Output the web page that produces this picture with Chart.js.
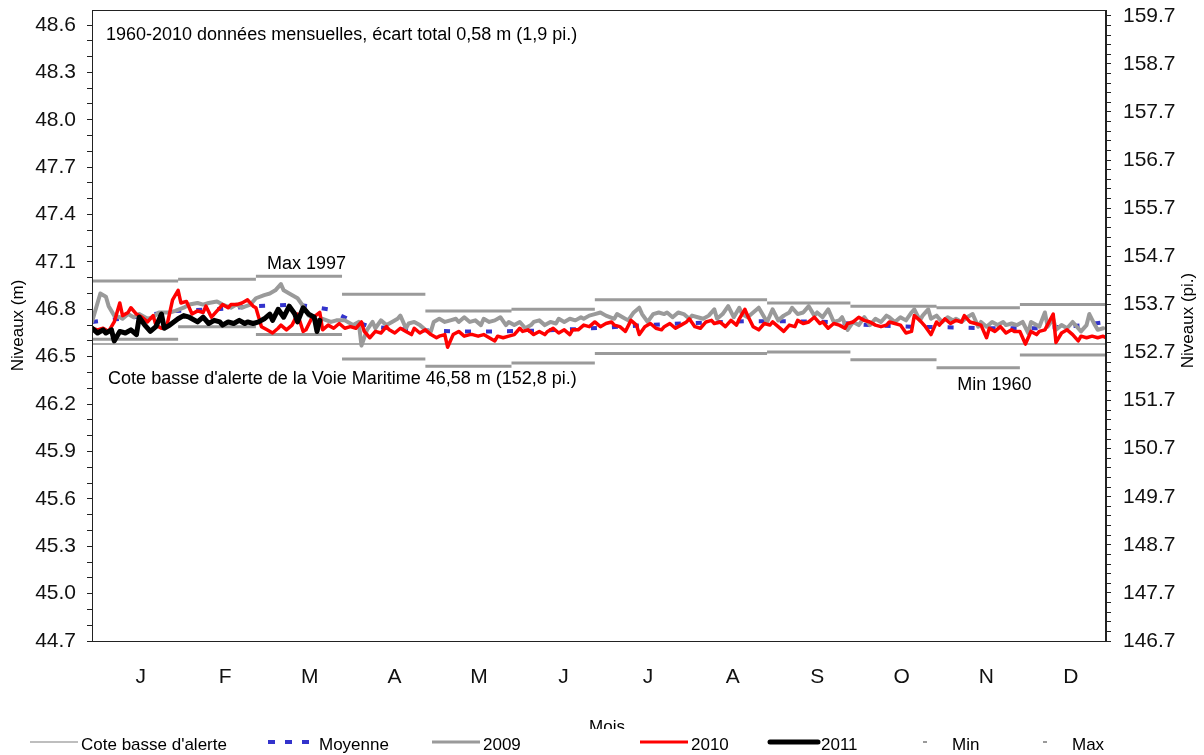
<!DOCTYPE html>
<html>
<head>
<meta charset="utf-8">
<title>Niveaux</title>
<script src="https://cdn.jsdelivr.net/npm/chart.js@4.4.1/dist/chart.umd.min.js"></script>
<style>
  html, body { margin: 0; padding: 0; background: #fff; }
  canvas { display: block; }
</style>
</head>
<body>
<canvas id="myLevels" width="1204" height="755"></canvas>
<script>
const months = ["J", "F", "M", "A", "M", "J", "J", "A", "S", "O", "N", "D"];
const monthDays = [31, 28, 31, 30, 31, 30, 31, 31, 30, 31, 30, 31];

// monthly extremes 1960-2010 (m)
const maxLevels = [46.98, 46.99, 47.01, 46.895, 46.79, 46.8, 46.86, 46.86, 46.84, 46.82, 46.81, 46.83];
const minLevels = [46.61, 46.69, 46.64, 46.485, 46.44, 46.46, 46.52, 46.52, 46.53, 46.48, 46.43, 46.51];
const alertLevel = 46.58;

// tick labels
const ticksM = [44.7, 45.0, 45.3, 45.6, 45.9, 46.2, 46.5, 46.8, 47.1, 47.4, 47.7, 48.0, 48.3, 48.6];
const ticksFt = [146.7, 147.7, 148.7, 149.7, 150.7, 151.7, 152.7, 153.7, 154.7, 155.7, 156.7, 157.7, 158.7, 159.7];

// [day of year, level m]
const moyenne = [[0,46.72],[15,46.75],[30,46.79],[45,46.80],[59,46.82],[74,46.83],[85,46.80],[92,46.74],[100,46.69],
  [115,46.67],[130,46.66],[145,46.66],[160,46.665],[175,46.675],[190,46.69],[205,46.705],[220,46.715],[235,46.725],
  [250,46.725],[265,46.72],[280,46.70],[295,46.69],[310,46.685],[325,46.68],[340,46.68],[350,46.69],[357,46.70],[365,46.72]];

const levels2009 = [[0,46.72],[3,46.90],[5,46.88],[6,46.82],[8,46.76],[10,46.75],[11,46.74],[13,46.77],[15,46.75],[17,46.77],
  [20,46.74],[22,46.75],[24,46.78],[26,46.78],[28,46.78],[30,46.79],[33,46.81],[35,46.83],[38,46.84],[40,46.83],[42,46.84],
  [45,46.85],[47,46.83],[50,46.81],[52,46.83],[54,46.81],[57,46.83],[59,46.87],[62,46.89],[64,46.90],[66,46.92],[68,46.96],
  [69,46.92],[71,46.90],[74,46.87],[76,46.82],[78,46.76],[81,46.73],[83,46.74],[86,46.72],[88,46.73],[91,46.73],[94,46.70],
  [96,46.72],[97,46.57],[99,46.67],[101,46.72],[102,46.68],[104,46.73],[106,46.70],[108,46.72],[110,46.74],[111,46.76],
  [113,46.68],[114,46.71],[116,46.72],[118,46.70],[120,46.67],[122,46.66],[123,46.72],[125,46.74],[127,46.72],[129,46.73],
  [131,46.74],[132,46.72],[134,46.75],[136,46.72],[138,46.73],[140,46.70],[141,46.74],[143,46.72],[145,46.73],[147,46.75],
  [149,46.70],[150,46.72],[152,46.70],[154,46.72],[156,46.68],[158,46.70],[159,46.72],[161,46.73],[163,46.70],[165,46.72],
  [167,46.71],[168,46.74],[170,46.72],[172,46.74],[174,46.73],[176,46.75],[177,46.74],[179,46.76],[181,46.77],[183,46.78],
  [185,46.76],[188,46.74],[189,46.77],[191,46.75],[193,46.73],[195,46.78],[197,46.81],[198,46.77],[200,46.72],[202,46.77],
  [204,46.78],[206,46.77],[207,46.78],[209,46.75],[211,46.78],[213,46.77],[215,46.74],[216,46.76],[218,46.75],[220,46.74],
  [222,46.76],[224,46.80],[225,46.74],[227,46.77],[229,46.82],[231,46.75],[233,46.81],[234,46.77],[236,46.75],[238,46.78],
  [240,46.81],[242,46.75],[243,46.72],[245,46.80],[247,46.73],[249,46.76],[251,46.78],[252,46.81],[254,46.77],[256,46.78],
  [258,46.82],[260,46.76],[261,46.78],[263,46.75],[265,46.80],[267,46.72],[269,46.73],[270,46.75],[272,46.67],[274,46.72],
  [276,46.70],[278,46.75],[280,46.70],[282,46.74],[284,46.72],[286,46.76],[287,46.75],[289,46.72],[291,46.75],[293,46.73],
  [295,46.78],[296,46.80],[298,46.73],[299,46.76],[301,46.80],[302,46.74],[304,46.76],[306,46.72],[308,46.75],[310,46.73],
  [311,46.74],[313,46.72],[315,46.75],[317,46.77],[319,46.69],[320,46.72],[322,46.69],[324,46.72],[326,46.70],[328,46.72],
  [329,46.70],[331,46.71],[333,46.70],[335,46.72],[337,46.65],[338,46.72],[340,46.70],[341,46.69],[343,46.78],[344,46.69],
  [346,46.74],[347,46.67],[349,46.70],[351,46.68],[353,46.72],[355,46.68],[356,46.66],[358,46.70],[359,46.77],[361,46.70],
  [362,46.67],[364,46.68]];

const levels2010 = [[0,46.68],[2,46.67],[4,46.68],[6,46.66],[8,46.72],[10,46.84],[11,46.76],[13,46.78],[14,46.81],[16,46.77],
  [18,46.75],[20,46.72],[22,46.76],[23,46.70],[25,46.68],[27,46.70],[29,46.86],[31,46.92],[32,46.84],[34,46.85],[36,46.77],
  [38,46.79],[40,46.78],[41,46.82],[43,46.75],[45,46.79],[47,46.83],[49,46.81],[50,46.83],[52,46.83],[54,46.84],[56,46.86],
  [58,46.82],[59,46.81],[61,46.69],[63,46.67],[65,46.65],[67,46.68],[68,46.70],[70,46.67],[72,46.70],[74,46.77],[76,46.66],
  [77,46.67],[79,46.74],[82,46.78],[83,46.67],[85,46.70],[87,46.68],[89,46.71],[91,46.68],[93,46.69],[95,46.68],[97,46.72],
  [98,46.66],[100,46.62],[102,46.66],[104,46.65],[106,46.69],[107,46.67],[109,46.65],[111,46.68],[113,46.66],[115,46.64],
  [116,46.68],[118,46.65],[120,46.67],[122,46.64],[124,46.62],[125,46.63],[127,46.64],[128,46.56],[130,46.64],[132,46.66],
  [134,46.63],[136,46.64],[137,46.64],[139,46.63],[141,46.64],[143,46.62],[145,46.60],[146,46.63],[148,46.62],[150,46.63],
  [152,46.64],[154,46.68],[155,46.66],[157,46.67],[159,46.64],[161,46.66],[163,46.64],[164,46.66],[166,46.68],[168,46.65],
  [170,46.67],[172,46.64],[173,46.67],[175,46.67],[177,46.70],[179,46.69],[181,46.72],[183,46.69],[185,46.71],[187,46.72],
  [188,46.70],[190,46.69],[192,46.66],[194,46.73],[196,46.70],[197,46.64],[199,46.69],[201,46.71],[203,46.68],[205,46.67],
  [206,46.69],[208,46.71],[210,46.68],[212,46.70],[214,46.72],[215,46.74],[217,46.69],[219,46.68],[221,46.72],[223,46.73],
  [224,46.71],[226,46.72],[228,46.69],[230,46.73],[232,46.70],[233,46.74],[235,46.80],[236,46.76],[238,46.69],[240,46.67],
  [242,46.71],[244,46.70],[245,46.72],[247,46.69],[249,46.66],[251,46.70],[253,46.69],[254,46.73],[256,46.71],[258,46.72],
  [260,46.75],[262,46.71],[263,46.72],[265,46.68],[267,46.71],[269,46.70],[271,46.68],[272,46.71],[274,46.72],[276,46.75],
  [278,46.73],[280,46.72],[282,46.70],[284,46.69],[286,46.70],[287,46.72],[289,46.71],[291,46.70],[293,46.65],[295,46.66],
  [296,46.76],[298,46.73],[300,46.69],[302,46.64],[304,46.72],[305,46.70],[307,46.74],[309,46.71],[311,46.73],[313,46.72],
  [314,46.76],[316,46.72],[318,46.71],[320,46.70],[322,46.62],[323,46.68],[325,46.66],[327,46.69],[329,46.65],[331,46.67],
  [332,46.66],[334,46.66],[336,46.58],[338,46.66],[340,46.64],[341,46.66],[343,46.67],[346,46.77],[347,46.59],[349,46.65],
  [351,46.67],[353,46.64],[355,46.60],[356,46.63],[358,46.62],[360,46.63],[362,46.62],[364,46.63],[365,46.62]];

const levels2011 = [[0,46.68],[2,46.65],[4,46.67],[5,46.65],[7,46.67],[8,46.60],[10,46.66],[12,46.65],[14,46.67],[16,46.64],
  [17,46.75],[19,46.70],[21,46.66],[23,46.69],[25,46.77],[26,46.68],[28,46.70],[31,46.74],[33,46.76],[35,46.75],[38,46.72],
  [40,46.75],[42,46.71],[44,46.73],[46,46.72],[47,46.70],[49,46.72],[51,46.71],[53,46.73],[55,46.71],[56,46.72],[58,46.71],
  [60,46.72],[62,46.74],[64,46.77],[65,46.73],[67,46.80],[69,46.75],[71,46.82],[73,46.77],[74,46.72],[76,46.81],[78,46.77],
  [80,46.75],[81,46.66],[82,46.73]];

const FONT = '"Liberation Sans", Arial, sans-serif';

function toPoints(pairs) {
  return pairs.map(([d, v]) => ({ x: d, y: v }));
}

// one flat segment per month, broken between months
function monthSegments(vals) {
  const pts = [];
  let start = 0;
  vals.forEach((v, i) => {
    const end = start + monthDays[i];
    pts.push({ x: start, y: v }, { x: end, y: v }, { x: end, y: null });
    start = end;
  });
  return pts;
}

const GRAY = "#9a9a9a";

const extras = {
  id: "extras",
  afterDatasetsDraw(chart) {
    const { ctx, chartArea: a, scales } = chart;
    const xs = scales.x, ys = scales.y;
    ctx.save();
    ctx.strokeStyle = "#222";
    ctx.lineWidth = 1;
    ctx.strokeRect(a.left + 0.5, a.top + 0.5, a.right - a.left - 1, a.bottom - a.top);

    ctx.fillStyle = "#000";
    ctx.font = "18px " + FONT;
    ctx.textBaseline = "middle";
    ctx.textAlign = "left";
    ctx.fillText("1960-2010 données mensuelles, écart total 0,58 m (1,9 pi.)", a.left + 14, a.top + 25);
    ctx.fillText("Max 1997", xs.getPixelForValue(63), ys.getPixelForValue(maxLevels[2]) - 12);
    ctx.fillText("Cote basse d'alerte de la Voie Maritime 46,58 m (152,8 pi.)",
      xs.getPixelForValue(5.8), ys.getPixelForValue(alertLevel) + 35);
    ctx.fillText("Min 1960", xs.getPixelForValue(311.5), ys.getPixelForValue(minLevels[10]) + 17);
    ctx.restore();
  },
  afterDraw(chart) {
    const { ctx, chartArea: a } = chart;
    ctx.save();
    // right axis title, reading upward
    ctx.fillStyle = "#000";
    ctx.font = "17px " + FONT;
    ctx.translate(1188, (a.top + a.bottom) / 2 - 5);
    ctx.rotate(-Math.PI / 2);
    ctx.textAlign = "center";
    ctx.textBaseline = "middle";
    ctx.fillText("Niveaux (pi.)", 0, 0);
    ctx.restore();

    // "Mois", half hidden behind the legend
    ctx.save();
    ctx.beginPath();
    ctx.rect(0, 0, chart.width, 729);
    ctx.clip();
    ctx.fillStyle = "#000";
    ctx.font = "17px " + FONT;
    ctx.textAlign = "center";
    ctx.textBaseline = "alphabetic";
    ctx.fillText("Mois", (a.left + a.right) / 2 + 8, 732);
    ctx.restore();

    // legend
    const y = 742;
    const entries = [
      { label: "Cote basse d'alerte", x: 30, color: "#a8a8a8", width: 1.5 },
      { label: "Moyenne", x: 268, color: "#3333cc", width: 4, dash: [7, 10] },
      { label: "2009", x: 432, color: GRAY, width: 3 },
      { label: "2010", x: 640, color: "#ff0000", width: 3 },
      { label: "2011", x: 770, color: "#000", width: 5, cap: "round" },
      { label: "Min", x: 901, color: GRAY, width: 2, tiny: true },
      { label: "Max", x: 1021, color: GRAY, width: 2, tiny: true },
    ];
    ctx.save();
    ctx.font = "17px " + FONT;
    ctx.textBaseline = "alphabetic";
    ctx.textAlign = "left";
    entries.forEach((e) => {
      ctx.strokeStyle = e.color;
      ctx.lineWidth = e.width;
      ctx.lineCap = e.cap || "butt";
      ctx.setLineDash(e.dash || []);
      ctx.beginPath();
      if (e.tiny) {
        ctx.moveTo(e.x + 22, y);
        ctx.lineTo(e.x + 26, y);
      } else {
        ctx.moveTo(e.x, y);
        ctx.lineTo(e.x + 48, y);
      }
      ctx.stroke();
      ctx.fillStyle = "#000";
      ctx.fillText(e.label, e.x + 51, y + 8);
    });
    ctx.restore();
  },
};

const ctx = document.getElementById("myLevels");

// vertical axes: no extra room for the end labels, plot fills to the top padding
function fixVertical(s, w) {
  s.width = w;
  s.paddingTop = 0;
  s.paddingBottom = 0;
}

const myChart = new Chart(ctx, {
  type: "line",
  data: {
    datasets: [
      {
        label: "2011",
        data: toPoints(levels2011),
        borderColor: "#000",
        borderWidth: 5,
        order: 0,
      },
      {
        label: "2010",
        data: toPoints(levels2010),
        borderColor: "#ff0000",
        borderWidth: 3.5,
        order: 1,
      },
      {
        label: "2009",
        data: toPoints(levels2009),
        borderColor: GRAY,
        borderWidth: 4,
        order: 2,
      },
      {
        label: "Moyenne",
        data: toPoints(moyenne),
        borderColor: "#3333cc",
        borderWidth: 4,
        borderDash: [6, 15],
        borderCapStyle: "butt",
        order: 3,
      },
      {
        label: "Max",
        data: monthSegments(maxLevels),
        borderColor: GRAY,
        borderWidth: 3,
        borderCapStyle: "butt",
        order: 4,
      },
      {
        label: "Min",
        data: monthSegments(minLevels),
        borderColor: GRAY,
        borderWidth: 3,
        borderCapStyle: "butt",
        order: 4,
      },
      {
        label: "Cote basse d'alerte",
        data: [{ x: 0, y: alertLevel }, { x: 365, y: alertLevel }],
        borderColor: "#ababab",
        borderWidth: 2,
        borderCapStyle: "butt",
        order: 5,
      },
    ],
  },
  options: {
    responsive: false,
    animation: false,
    devicePixelRatio: 1,
    layout: { padding: { top: 10, left: 0, right: 0, bottom: 0 } },
    elements: {
      point: { radius: 0 },
      line: { tension: 0, borderJoinStyle: "round", borderCapStyle: "round", fill: false },
    },
    plugins: {
      legend: { display: false },
      tooltip: { enabled: false },
    },
    scales: {
      x: { type: "linear", min: 0, max: 365, display: false },
      xm: {
        type: "linear",
        position: "bottom",
        min: -0.076,
        max: 11.915,
        afterBuildTicks: (s) => {
          s.ticks = months.map((m, i) => ({ value: i + 0.5 }));
        },
        afterFit: (s) => {
          s.height = 114;
        },
        ticks: {
          autoSkip: false,
          maxRotation: 0,
          padding: 24,
          color: "#111",
          font: { family: FONT, size: 21 },
          callback: (v) => months[Math.floor(v)],
        },
        grid: { display: false, drawTicks: false },
        border: { display: false },
      },
      y: {
        position: "left",
        min: 44.7,
        max: 48.695,
        afterBuildTicks: (s) => {
          const t = [];
          ticksM.forEach((v, i) => {
            t.push({ value: v });
            if (i < ticksM.length - 1) {
              t.push({ value: +(v + 0.1).toFixed(1) }, { value: +(v + 0.2).toFixed(1) });
            }
          });
          s.ticks = t;
        },
        afterFit: (s) => fixVertical(s, 92),
        ticks: {
          autoSkip: false,
          padding: 11,
          color: "#111",
          font: { family: FONT, size: 21 },
          callback: (v) => (ticksM.some((m) => Math.abs(m - v) < 1e-6) ? v.toFixed(1) : ""),
        },
        grid: { drawOnChartArea: false, drawTicks: true, tickLength: 5, color: "#222" },
        border: { display: true, color: "#222" },
        title: {
          display: true,
          text: "Niveaux (m)",
          color: "#000",
          font: { family: FONT, size: 17 },
          padding: { top: 8, bottom: 0 },
        },
      },
      y2: {
        position: "right",
        min: 146.7,
        max: 159.82,
        afterBuildTicks: (s) => {
          const t = [];
          ticksFt.forEach((v, i) => {
            t.push({ value: v });
            if (i < ticksFt.length - 1) {
              for (let k = 1; k < 5; k++) t.push({ value: +(v + k * 0.2).toFixed(1) });
            }
          });
          s.ticks = t;
        },
        afterFit: (s) => fixVertical(s, 98),
        ticks: {
          autoSkip: false,
          padding: 12,
          color: "#111",
          font: { family: FONT, size: 21 },
          callback: (v) => (ticksFt.some((m) => Math.abs(m - v) < 1e-6) ? v.toFixed(1) : ""),
        },
        grid: { drawOnChartArea: false, drawTicks: true, tickLength: 5, color: "#222" },
        border: { display: true, color: "#222" },
      },
    },
  },
  plugins: [extras],
});
</script>
</body>
</html>
